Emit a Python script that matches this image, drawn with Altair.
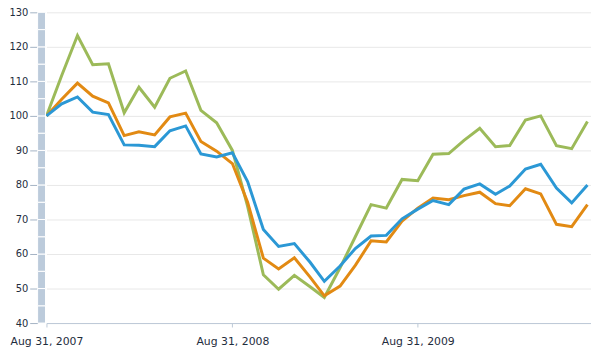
import altair as alt
import pandas as pd

dates = [
    "2007-08-31", "2007-09-30", "2007-10-31", "2007-11-30", "2007-12-31",
    "2008-01-31", "2008-02-29", "2008-03-31", "2008-04-30", "2008-05-31",
    "2008-06-30", "2008-07-31", "2008-08-31", "2008-09-30", "2008-10-31",
    "2008-11-30", "2008-12-31", "2009-01-31", "2009-02-28", "2009-03-31",
    "2009-04-30", "2009-05-31", "2009-06-30", "2009-07-31", "2009-08-31",
    "2009-09-30", "2009-10-31", "2009-11-30", "2009-12-31", "2010-01-31",
    "2010-02-28", "2010-03-31", "2010-04-30", "2010-05-31", "2010-06-30",
    "2010-07-31",
]
green = [100, 111.7, 123.3, 114.8, 115.1, 100.9, 108.3, 102.5, 110.9, 113.0,
         101.6, 98.0, 90.0, 73.8, 54.0, 49.8, 53.8, 50.5, 47.4, 56.0,
         65.0, 74.3, 73.3, 81.6, 81.2, 88.9, 89.1, 92.9, 96.4, 91.1,
         91.4, 98.8, 100.0, 91.4, 90.5, 98.4]
orange = [100, 104.8, 109.5, 105.7, 103.8, 94.3, 95.4, 94.5, 99.7, 100.8,
          92.6, 89.8, 86.2, 75.0, 58.8, 55.7, 58.9, 53.3, 47.9, 50.7,
          56.7, 63.8, 63.5, 69.5, 73.3, 76.2, 75.7, 76.9, 77.9, 74.6,
          74.0, 78.9, 77.4, 68.6, 67.9, 74.3]
blue = [100, 103.5, 105.5, 101.1, 100.4, 91.6, 91.5, 91.1, 95.7, 97.1,
        89.0, 88.1, 89.3, 81.0, 67.1, 62.2, 63.0, 57.6, 52.1, 56.5,
        61.6, 65.2, 65.4, 70.2, 73.0, 75.5, 74.3, 78.8, 80.3, 77.3,
        79.7, 84.6, 86.0, 79.1, 74.8, 80.0]
series_names = ["Series C", "Series B", "Series A"]
series_colors = ["#9cba59", "#e28a13", "#2b98d5"]
y_ticks = [40, 50, 60, 70, 80, 90, 100, 110, 120, 130]
ruler_steps = [40, 45, 50, 55, 60, 65, 70, 75, 80, 85, 90, 95, 100, 105,
               110, 115, 120, 125]

rows = []
for name, vals in zip(series_names, [green, orange, blue]):
    for d, v in zip(dates, vals):
        rows.append({"date": d, "value": v, "series": name})
df = pd.DataFrame(rows)

ruler = pd.DataFrame({"lo": ruler_steps, "hi": [s + 5 for s in ruler_steps]})

x_scale = alt.Scale(
    type="utc",
    domain=[alt.DateTime(year=2007, month=8, date=31, utc=True),
            alt.DateTime(year=2010, month=8, date=7, utc=True)],
    nice=False,
)
y_scale = alt.Scale(domain=[40, 130], nice=False, zero=False)

y_axis = alt.Axis(values=y_ticks, grid=True, gridColor="#e8e8e8",
                  domain=False, offset=9, tickSize=8,
                  tickColor="#a4b3c4", labelPadding=2,
                  labelFontSize=10, labelColor="#1f2d3d",
                  labelFont="DejaVu Sans", labelOverlap=False)

lines = alt.Chart(df).mark_line(strokeWidth=3, clip=False).encode(
    x=alt.X("date:T", scale=x_scale, title=None,
            axis=alt.Axis(
                values=[alt.DateTime(year=2007, month=8, date=31, utc=True),
                        alt.DateTime(year=2008, month=8, date=31, utc=True),
                        alt.DateTime(year=2009, month=8, date=31, utc=True)],
                format="%b %d, %Y", grid=False, domainColor="#bcc8d6",
                tickColor="#bcc8d6", tickSize=4, labelPadding=9,
                labelFontSize=11, labelColor="#1f2d3d", labelFont="DejaVu Sans",
                labelFlush=False)),
    y=alt.Y("value:Q", scale=y_scale, title=None, axis=y_axis),
    color=alt.Color("series:N", scale=alt.Scale(domain=series_names,
                                                range=series_colors),
                    legend=None),
    order=alt.Order("date:T"),
)

bar = alt.Chart(ruler).mark_rect(color="#bccbdb", stroke="white",
                                 strokeWidth=1, clip=False).encode(
    x=alt.value(-9), x2=alt.value(-1),
    y=alt.Y("lo:Q", scale=y_scale, title=None, axis=y_axis), y2="hi:Q",
)

chart = alt.layer(lines, bar).properties(
    width=552, height=315,
    autosize=alt.AutoSizeParams(type="none"),
    padding={"left": 39, "top": 2, "right": 0, "bottom": 30},
).configure_view(stroke=None).configure_axis(labelFont="DejaVu Sans")

chart.save("out.html", embed_options={"renderer": "svg", "actions": False})
